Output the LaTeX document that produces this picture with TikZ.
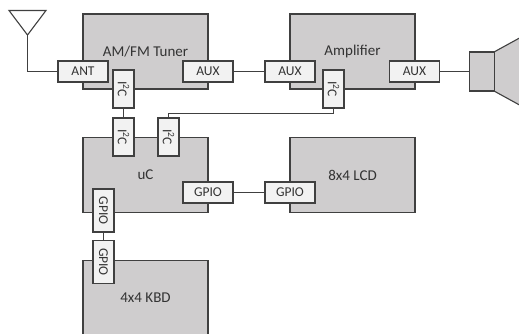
\documentclass[tikz,border=0pt]{standalone}
\usepackage{fontspec}
\setmainfont{Carlito}
\definecolor{blockgray}{HTML}{CFCDCE}
\definecolor{portgray}{HTML}{F2F2F2}
\definecolor{linegray}{HTML}{404040}
\tikzset{
  block/.style={draw=linegray, fill=blockgray, line width=1.2pt, inner sep=0pt, outer sep=0pt,
    minimum width=125pt, minimum height=75pt, font=\fontsize{15}{18}\selectfont, text=black!80},
  hport/.style={draw=linegray, fill=portgray, line width=1.2pt, inner sep=0pt, outer sep=0pt,
    minimum width=50pt, minimum height=21pt, font=\fontsize{13.5}{16}\selectfont, text=black!80},
  vport/.style={hport, rotate=-90, minimum width=38pt},
  gport/.style={hport, rotate=-90, minimum width=43pt},
  wire/.style={draw=linegray, line width=1.1pt}
}
\begin{document}
\begin{tikzpicture}[x=1pt, y=-1pt]
\clip (0,0) rectangle (519,334);

% ================================================================
% Blocks
% ================================================================
\node[block] (tuner) at (145.5, 51.5) {AM/FM Tuner};
\node[block] (amp) at (352.5, 51.5) {Amplifier};
\node[block] (uc) at (145.5, 175) {uC};
\node[block] (lcd) at (352.5, 175) {8x4 LCD};
\node[block] (kbd) at (145.5, 298) {4x4 KBD};

% ================================================================
% Antenna and speaker
% ================================================================
\coordinate (anttip) at (27.5, 35);
\coordinate (antcorner) at (27.5, 71.5);
\draw[wire] (9, 10.5) -- (46, 10.5) -- (anttip) -- cycle;
\fill[blockgray] (494, 52) -- (525, 35) -- (525, 108) -- (494, 91) -- cycle;
\draw[wire] (494, 52) -- (525, 35);
\draw[wire] (494, 91) -- (525, 108);
\node[block, minimum width=25pt, minimum height=39pt] (horn) at (482, 71.5) {};

% ================================================================
% Ports
% ================================================================
\node[hport] (antport) at (83, 71.5) {ANT};
\node[hport] (tuneraux) at (208, 71.5) {AUX};
\node[hport] (ampauxin) at (290, 71.5) {AUX};
\node[hport] (ampauxout) at (414.5, 71.5) {AUX};
\node[hport] (ucgpio) at (208, 192.5) {GPIO};
\node[hport] (lcdgpio) at (290, 192.5) {GPIO};
\node[vport] (tuneri2c) at (123.5, 89) {I\textsuperscript{2}C};
\node[vport] (ampi2c) at (333.5, 89) {I\textsuperscript{2}C};
\node[vport] (uci2ca) at (123.5, 137) {I\textsuperscript{2}C};
\node[vport] (uci2cb) at (168.5, 137) {I\textsuperscript{2}C};
\node[gport] (ucgpiov) at (103.5, 210.5) {GPIO};
\node[gport] (kbdgpio) at (103.5, 262) {GPIO};

% ================================================================
% Connections
% ================================================================
\draw[wire] (anttip) -- (antcorner) -- (antport);
\draw[wire] (tuneraux) -- (ampauxin);
\draw[wire] (ampauxout) -- (horn);
\draw[wire] (tuneri2c) -- (uci2ca);
\draw[wire] (uci2cb.west) -- ++(0, -4.5) -| (ampi2c.east);
\draw[wire] (ucgpio) -- (lcdgpio);
\draw[wire] (ucgpiov) -- (kbdgpio);

\end{tikzpicture}
\end{document}
